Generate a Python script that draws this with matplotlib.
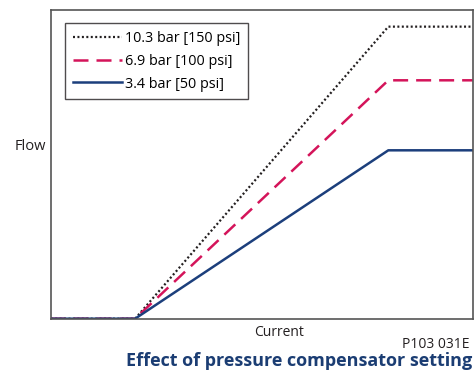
import matplotlib
matplotlib.use('Agg')
from matplotlib import pyplot as plt

plt.rcParams['font.family'] = ['Open Sans', 'DejaVu Sans']

# current (% of span) and flow (% of full scale)
current = [0, 20, 80, 100]
flow_150 = [0, 0, 94.7, 94.7]
flow_100 = [0, 0, 77.3, 77.3]
flow_50 = [0, 0, 54.6, 54.6]
labels = ['10.3 bar [150 psi]', '6.9 bar [100 psi]', '3.4 bar [50 psi]']

fig = plt.figure(figsize=(4.74, 3.71), dpi=100)
ax = fig.add_axes([50.7 / 474, 1 - 318.7 / 371, 422 / 474, 308.4 / 371])

ax.plot(current, flow_150, color='#231f20', lw=1.6, ls=(0, (0.9, 1.1)), label=labels[0])
ax.plot(current, flow_100, color='#d4145a', lw=1.8, ls=(0, (6, 3.2)), label=labels[1])
ax.plot(current, flow_50, color='#1c3f7c', lw=1.8, label=labels[2])

ax.set_xlim(0, 100)
ax.set_ylim(0, 100)
ax.set_xticks([])
ax.set_yticks([])
for s in ax.spines.values():
    s.set_color('#555555')
    s.set_linewidth(1.2)

leg = ax.legend(loc='upper left', bbox_to_anchor=(14.3 / 422, 1 - 12.4 / 308.4), frameon=True,
                fancybox=False, fontsize=10.4, handlelength=3.4, handletextpad=0.2,
                borderpad=0.55, labelspacing=0.55, borderaxespad=0)
leg.get_frame().set_edgecolor('#231f20')
leg.get_frame().set_linewidth(1.0)

fig.text(46 / 474, 1 - 146 / 371, 'Flow', ha='right', va='center', fontsize=10.5, color='#231f20')
fig.text(279 / 474, 1 - 333 / 371, 'Current', ha='center', va='center', fontsize=10, color='#231f20')
fig.text(470 / 474, 1 - 344 / 371, 'P103 031E', ha='right', va='center', fontsize=10, color='#231f20')
fig.text(472 / 474, 1 - 361.5 / 371, 'Effect of pressure compensator setting', ha='right', va='center',
         fontsize=13, fontweight='bold', color='#1b3d73')

fig.savefig('out.png', dpi=100)
